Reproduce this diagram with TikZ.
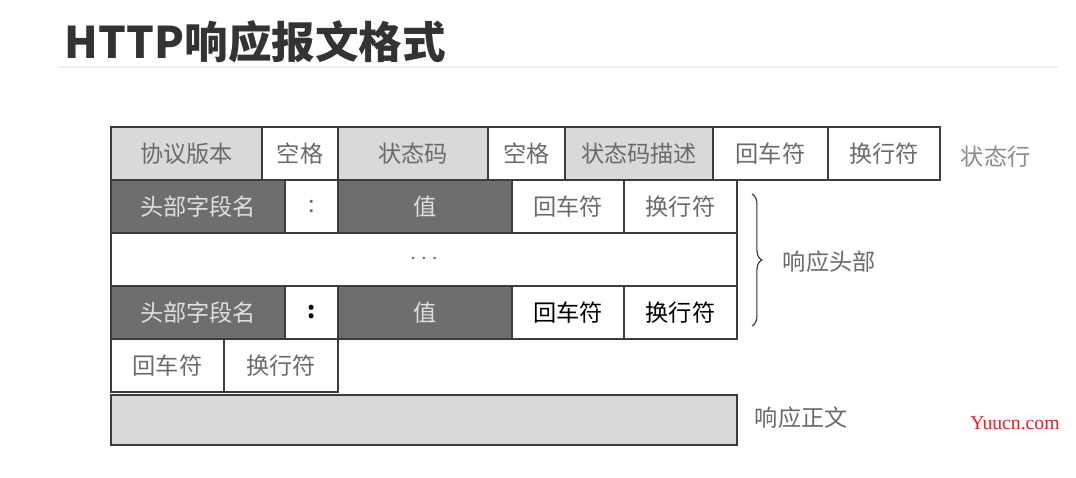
\documentclass[tikz,border=0pt]{standalone}
\usepackage{fontspec}
\setmainfont{Noto Sans CJK SC}
\newfontfamily\markfont{Liberation Serif}
\usepackage{tikz}
\usetikzlibrary{positioning,decorations.pathreplacing}
\definecolor{lightcell}{HTML}{D9D9D9}
\definecolor{darkcell}{HTML}{6E6E6E}
\definecolor{edge}{HTML}{3C3C3C}
\definecolor{txtgray}{HTML}{6A6A6A}
\definecolor{titlegray}{HTML}{333333}
\definecolor{markred}{HTML}{E8202A}

\begin{document}
\begin{tikzpicture}[
cell/.style = {draw=edge, line width=1.1pt, inner sep=0pt, outer sep=0pt,
  minimum height=1.325cm, text=txtgray, font=\fontsize{16.5}{18}\selectfont},
light/.style = {cell, fill=lightcell},
dark/.style = {cell, fill=darkcell, text=white!88!black},
side/.style = {text=txtgray, font=\fontsize{16.5}{18}\selectfont}
]
\useasboundingbox (0,0) rectangle (26.9,-11.95);
\node[anchor=base west, text=titlegray, font=\fontsize{31}{31}\selectfont\bfseries] (title) at (1.5,-1.45) {HTTP响应报文格式};
\draw[black!6, line width=0.8pt] (1.45,-1.675) -- (26.45,-1.675);
% status line
\node[light, minimum width=3.775cm, anchor=north west] (ver) at (2.775,-3.175) {协议版本};
\node[cell, minimum width=1.9cm, right=0pt of ver] (sp1) {空格};
\node[light, minimum width=3.75cm, right=0pt of sp1] (code) {状态码};
\node[cell, minimum width=1.925cm, right=0pt of code] (sp2) {空格};
\node[light, minimum width=3.7cm, right=0pt of sp2] (desc) {状态码描述};
\node[cell, minimum width=2.875cm, right=0pt of desc] (cr0) {回车符};
\node[cell, minimum width=2.8cm, right=0pt of cr0] (lf0) {换行符};
\node[side, text=black!45, anchor=west] (sline) at (23.9,-3.925) {状态行};
% header lines
\node[dark, minimum width=4.35cm, below=0pt of ver.south west, anchor=north west] (name1) {头部字段名};
\node[cell, minimum width=1.325cm, right=0pt of name1] (col1) {:};
\node[dark, minimum width=4.35cm, right=0pt of col1] (val1) {值};
\node[cell, minimum width=2.8cm, right=0pt of val1] (cr1) {回车符};
\node[cell, minimum width=2.825cm, right=0pt of cr1] (lf1) {换行符};
\node[cell, minimum width=15.65cm, below=0pt of name1.south west, anchor=north west] (more) {$\cdots$};
\node[dark, minimum width=4.35cm, below=0pt of more.south west, anchor=north west] (name2) {头部字段名};
\node[cell, minimum width=1.325cm, text=black, right=0pt of name2] (col2) {\textbf{:}};
\node[dark, minimum width=4.35cm, right=0pt of col2] (val2) {值};
\node[cell, minimum width=2.8cm, text=black, right=0pt of val2] (cr2) {回车符};
\node[cell, minimum width=2.825cm, text=black, right=0pt of cr2] (lf2) {换行符};
\coordinate (btop) at (18.8,-4.85);
\coordinate (bbot) at (18.8,-8.15);
\draw[decorate, decoration={brace, amplitude=7pt}, line width=0.8pt, black!80] (btop) -- (bbot);
\node[side, anchor=west] (hdr) at (19.45,-6.55) {响应头部};
% empty line and body
\node[cell, minimum width=2.825cm, below=0pt of name2.south west, anchor=north west] (cr3) {回车符};
\node[cell, minimum width=2.85cm, right=0pt of cr3] (lf3) {换行符};
\node[light, minimum width=15.65cm, minimum height=1.25cm, anchor=north west] (body) at (2.775,-9.875) {};
\node[side, anchor=west] (btext) at (18.75,-10.45) {响应正文};
\node[text=markred, font=\markfont\fontsize{14}{14}\selectfont] (mark) at (25.375,-10.575) {Yuucn.com};
\end{tikzpicture}
\end{document}
